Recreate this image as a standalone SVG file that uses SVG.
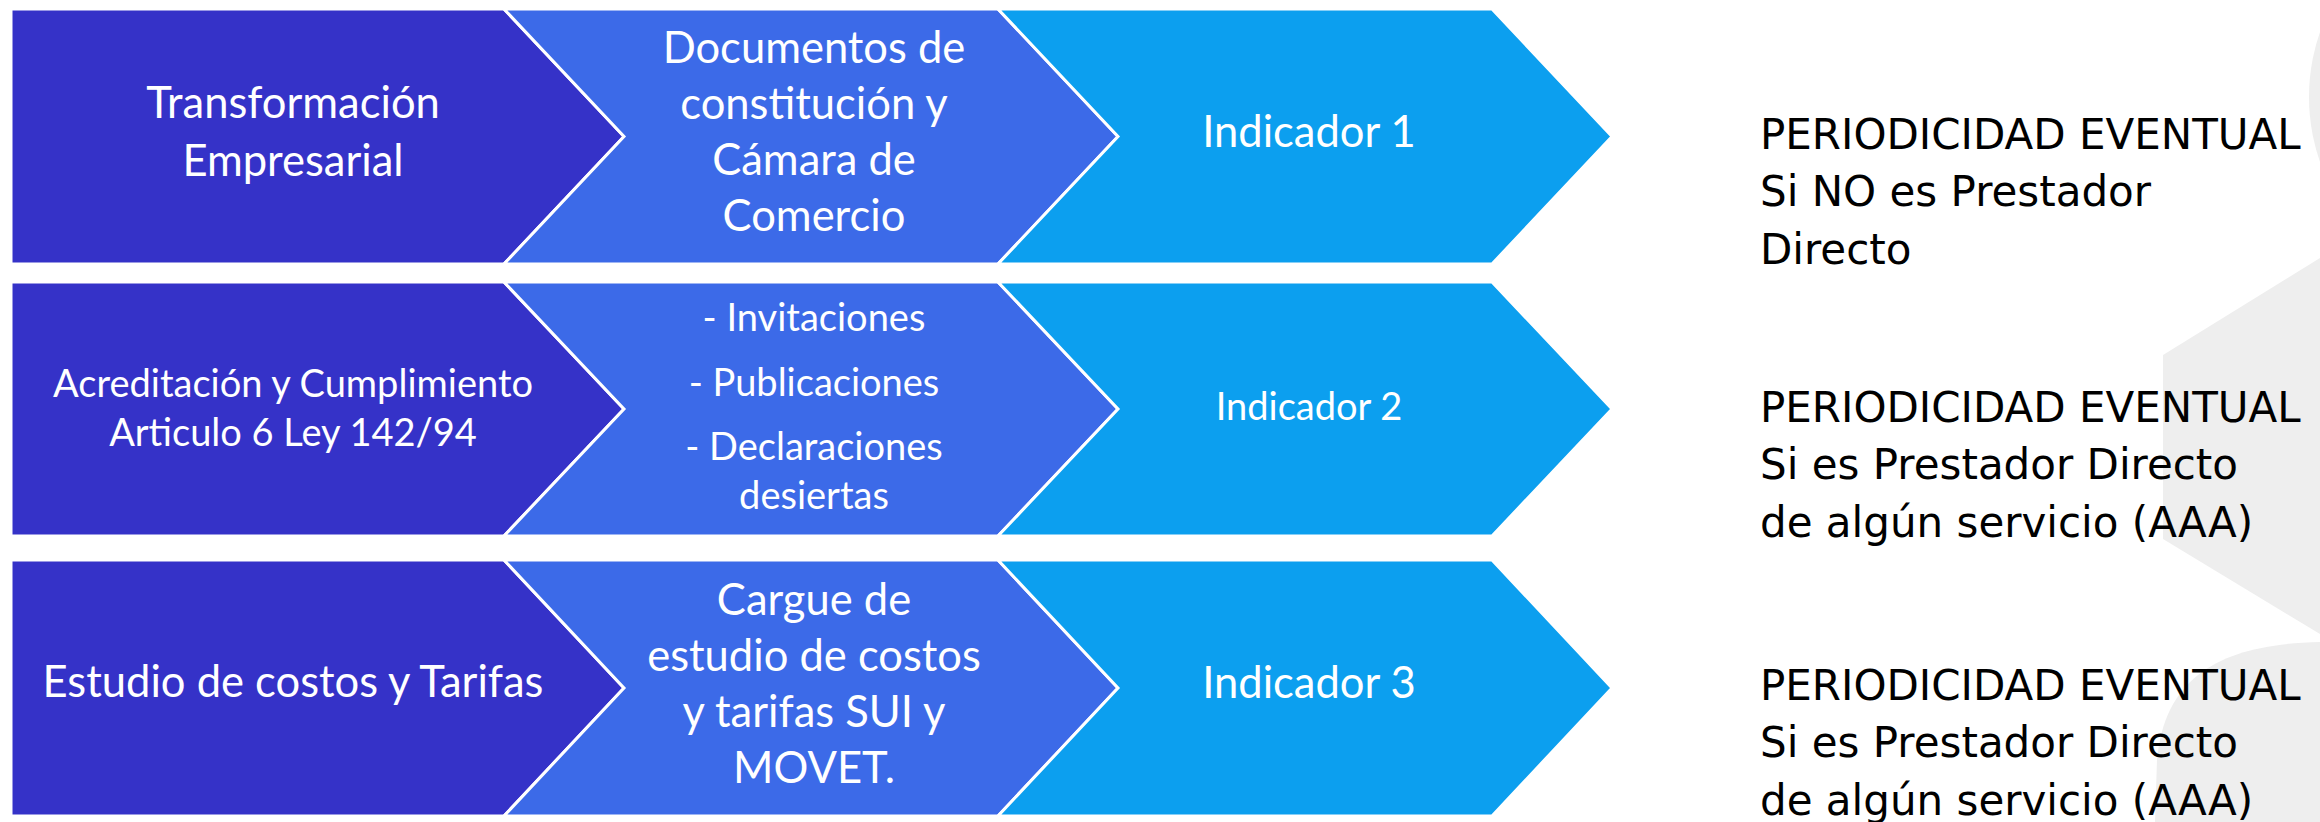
<svg xmlns="http://www.w3.org/2000/svg" width="2320" height="822" viewBox="0 0 2320 822">
<style>
.c1{fill:#3532C8;stroke:#ffffff;stroke-width:3;stroke-linejoin:miter}
.c2{fill:#3C6AE8;stroke:#ffffff;stroke-width:3;stroke-linejoin:miter}
.c3{fill:#0C9FEF;stroke:#ffffff;stroke-width:3;stroke-linejoin:miter}
.bg{fill:#EEEEEE}
.tl{font-family:Lato,"Open Sans",sans-serif;font-size:43.5px;fill:#ffffff;text-anchor:middle}
.ts{font-family:Lato,"Open Sans",sans-serif;font-size:38px;fill:#ffffff;text-anchor:middle}
.tr{font-family:"DejaVu Sans",Verdana,sans-serif;font-size:42px;fill:#000000}
</style>
<rect x="0" y="0" width="2320" height="822" fill="#ffffff"/>
<g id="background">
<circle class="bg" cx="2506" cy="97" r="197"/>
<polygon class="bg" points="2163,355 2320,258 2320,634 2163,539"/>
<path class="bg" d="M2320,642 C2230,644 2165,670 2157,760 L2155,822 L2320,822 Z"/>
</g>
<g id="connectors"></g>
<g id="row1-step1">
<polygon class="c1" points="11,9 504,9 624,136.5 504,264 11,264"/>
<text class="tl" x="293" y="118">Transformación</text>
<text class="tl" x="293" y="176">Empresarial</text>
</g>
<g id="row1-step2">
<polygon class="c2" points="504,9 998,9 1118,136.5 998,264 504,264 624,136.5"/>
<text class="tl" x="814" y="63">Documentos de</text>
<text class="tl" x="814" y="119">constitución y</text>
<text class="tl" x="814" y="175">Cámara de</text>
<text class="tl" x="814" y="231">Comercio</text>
</g>
<g id="row1-step3">
<polygon class="c3" points="998,9 1492,9 1612,136.5 1492,264 998,264 1118,136.5"/>
<text class="tl" x="1309" y="147">Indicador 1</text>
</g>
<g id="row2-step1">
<polygon class="c1" points="11,282 504,282 624,409 504,536 11,536"/>
<text class="ts" x="293" y="397">Acreditación y Cumplimiento</text>
<text class="ts" x="293" y="446">Articulo 6 Ley 142/94</text>
</g>
<g id="row2-step2">
<polygon class="c2" points="504,282 998,282 1118,409 998,536 504,536 624,409"/>
<text class="ts" x="814" y="331">- Invitaciones</text>
<text class="ts" x="814" y="396">- Publicaciones</text>
<text class="ts" x="814" y="460">- Declaraciones</text>
<text class="ts" x="814" y="509">desiertas</text>
</g>
<g id="row2-step3">
<polygon class="c3" points="998,282 1492,282 1612,409 1492,536 998,536 1118,409"/>
<text class="ts" x="1309" y="420">Indicador 2</text>
</g>
<g id="row3-step1">
<polygon class="c1" points="11,560 504,560 624,688 504,816 11,816"/>
<text class="tl" x="293" y="697">Estudio de costos y Tarifas</text>
</g>
<g id="row3-step2">
<polygon class="c2" points="504,560 998,560 1118,688 998,816 504,816 624,688"/>
<text class="tl" x="814" y="615">Cargue de</text>
<text class="tl" x="814" y="671">estudio de costos</text>
<text class="tl" x="814" y="727">y tarifas SUI y</text>
<text class="tl" x="814" y="783">MOVET.</text>
</g>
<g id="row3-step3">
<polygon class="c3" points="998,560 1492,560 1612,688 1492,816 998,816 1118,688"/>
<text class="tl" x="1309" y="698">Indicador 3</text>
</g>
<g id="note1">
<text class="tr" x="1760" y="149">PERIODICIDAD EVENTUAL</text>
<text class="tr" x="1760" y="206">Si NO es Prestador</text>
<text class="tr" x="1760" y="264">Directo</text>
</g>
<g id="note2">
<text class="tr" x="1760" y="422">PERIODICIDAD EVENTUAL</text>
<text class="tr" x="1760" y="479">Si es Prestador Directo</text>
<text class="tr" x="1760" y="537">de algún servicio (AAA)</text>
</g>
<g id="note3">
<text class="tr" x="1760" y="700">PERIODICIDAD EVENTUAL</text>
<text class="tr" x="1760" y="757">Si es Prestador Directo</text>
<text class="tr" x="1760" y="815">de algún servicio (AAA)</text>
</g>
</svg>
